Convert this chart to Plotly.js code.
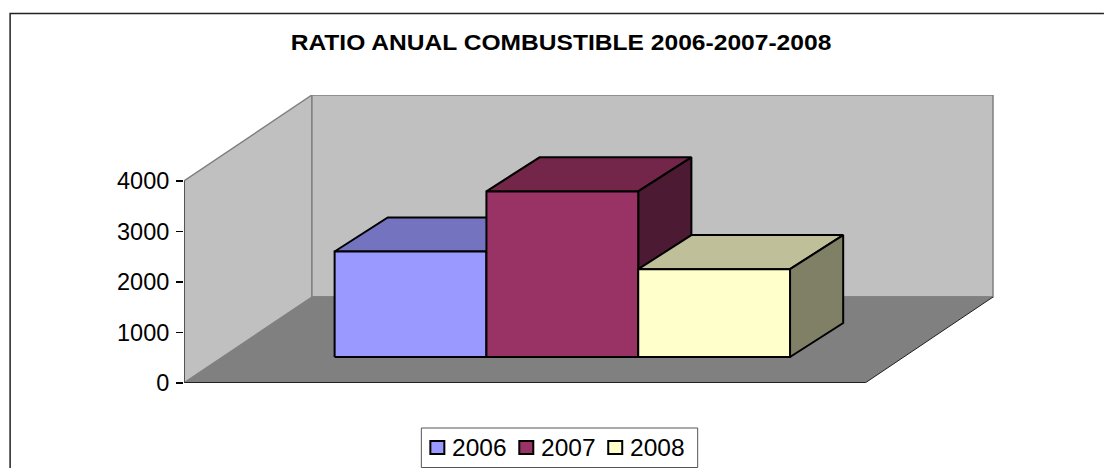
<!DOCTYPE html>
<html>
<head>
<meta charset="utf-8">
<script src="https://cdn.plot.ly/plotly-3.0.1.min.js"></script>
<style>
html,body{margin:0;padding:0;background:#fff}
#chart{width:1104px;height:468px}
#chart .gtitle{transform-box:fill-box;transform-origin:center;transform:scaleX(1.118)}
</style>
</head>
<body>
<div id="chart"></div>
<script>
const titleText = 'RATIO ANUAL COMBUSTIBLE 2006-2007-2008';
const years = ['2006', '2007', '2008'];
const ratios = [2090, 3280, 1740];
const frontColors = ['#9999FF', '#993366', '#FFFFCC'];
const topColors = ['#7373BF', '#732649', '#BFBF99'];
const sideColors = ['#4D4D80', '#4D1A33', '#808066'];
const yTicks = [0, 1000, 2000, 3000, 4000];

const W = 1104, H = 468;
const margin = {l: 183.5, r: 110, t: 95, b: 85};
const plotW = W - margin.l - margin.r, plotH = H - margin.t - margin.b;
const pxPerValue = 202 / 4000;
const pxPerCat = 151.9;
const centerPx = 371.5;                 // first category centre on the floor's front edge
const yMax = plotH / pxPerValue;
const xMin = (183.5 - centerPx) / pxPerCat;
const xMax = (994 - centerPx) / pxPerCat;
const floorW = 681.5 / pxPerCat;        // width of the floor front edge in category units
const depthX = 128 / pxPerCat;          // full depth of the floor, in x units
const depthY = 86 / pxPerValue;         // full depth of the floor, in value units
const barFront = 0.302, barBack = 0.698;
const barSkew = 2.5 / pxPerCat;         // bars run slightly deeper horizontally than the floor scale

// oblique projection onto the 2D axes
const P = (x, v, d) => [x + d * depthX, v + d * depthY];
const PB = (x, v) => { const p = P(x, v, barBack); return [p[0] + barSkew, p[1]]; };
function poly(pts, fill, lineColor, lineWidth, name) {
  const c = pts.concat([pts[0]]);
  return {
    type: 'scatter', mode: 'lines', x: c.map(p => p[0]), y: c.map(p => p[1]),
    fill: 'toself', fillcolor: fill,
    line: {color: lineColor, width: lineWidth, simplify: false},
    hoverinfo: name ? 'name' : 'skip', name: name || '', showlegend: false
  };
}
function seg(pts, color, width) {
  return {
    type: 'scatter', mode: 'lines', x: pts.map(p => p[0]), y: pts.map(p => p[1]),
    line: {color: color, width: width}, hoverinfo: 'skip', showlegend: false
  };
}

const traces = [];
const x0 = xMin, x1 = xMin + floorW, wallTop = 4000;
// walls and floor
traces.push(poly([P(x0,0,0), P(x0,wallTop,0), P(x0,wallTop,1), P(x0,0,1)], '#C0C0C0', '#808080', 1.5));
traces.push(poly([P(x0,0,1), P(x0,wallTop,1), P(x1,wallTop,1), P(x1,0,1)], '#C0C0C0', '#808080', 1.5));
traces.push(poly([P(x0,0,0), P(x1,0,0), P(x1,0,1), P(x0,0,1)], '#808080', 'rgba(0,0,0,0)', 0));
traces.push(seg([P(x0,0,1), P(x1,0,1)], '#808080', 1.5));
traces.push(seg([P(x1,0,0), P(x1,0,1)], '#202020', 1));
traces.push(seg([P(x0,0,0), P(x1,0,0)], '#000000', 1.5));
traces.push(seg([P(x0,0,0), P(x0,wallTop,0)], '#404040', 1.5));

// bars, back to front and left to right
ratios.forEach((v, i) => {
  const a = i - 0.5, b = i + 0.5, f = barFront;
  traces.push(poly([P(a,v,f), P(b,v,f), PB(b,v), PB(a,v)], topColors[i], '#000', 2));
  traces.push(poly([P(b,0,f), P(b,v,f), PB(b,v), PB(b,0)], sideColors[i], '#000', 2));
  traces.push(poly([P(a,0,f), P(b,0,f), P(b,v,f), P(a,v,f)], frontColors[i], '#000', 2, years[i]));
});

const px = x => (x - margin.l) / plotW;
const py = y => 1 - (y - margin.t) / plotH;
const fontFam = '"Liberation Sans", Arial, sans-serif';

const shapes = [
  {type: 'path', xref: 'paper', yref: 'paper', layer: 'below',
   path: `M ${px(9.5)} ${py(468)} L ${px(9.5)} ${py(13.5)} L ${px(1104)} ${py(13.5)}`,
   line: {color: '#222', width: 1.5}},
  {type: 'rect', xref: 'paper', yref: 'paper', x0: px(421), x1: px(697.5), y0: py(428), y1: py(467.5),
   line: {color: '#555', width: 1}, fillcolor: '#fff'}
];
const annotations = [];
const legendX = [430, 519, 608];
years.forEach((yr, i) => {
  shapes.push({type: 'rect', xref: 'paper', yref: 'paper',
    x0: px(legendX[i]), x1: px(legendX[i] + 14), y0: py(441), y1: py(454),
    line: {color: '#000', width: 2}, fillcolor: frontColors[i]});
  annotations.push({xref: 'paper', yref: 'paper', x: px(legendX[i] + 23), y: py(447),
    xanchor: 'left', yanchor: 'middle', showarrow: false, text: yr, borderpad: 0, borderwidth: 0,
    xshift: -1, font: {family: fontFam, size: 24.5, color: '#000'}});
});

const layout = {
  width: W, height: H, margin: margin,
  paper_bgcolor: '#fff', plot_bgcolor: '#fff', showlegend: false,
  title: {text: '<b>' + titleText + '</b>', xref: 'container', yref: 'container',
          x: 561 / W, xanchor: 'center', y: 1 - 42 / H, yanchor: 'middle',
          font: {family: fontFam, size: 22, color: '#000'}},
  xaxis: {range: [xMin, xMax], visible: false, fixedrange: true},
  yaxis: {range: [0, yMax], tickmode: 'array', tickvals: yTicks, ticktext: yTicks.map(String),
          showgrid: false, zeroline: false, showline: false, ticks: 'outside', ticklen: 7,
          tickwidth: 1.2, tickcolor: '#000', ticklabelstandoff: 2, fixedrange: true,
          tickfont: {family: fontFam, size: 23.5, color: '#000'}},
  shapes: shapes, annotations: annotations
};
Plotly.newPlot('chart', traces, layout, {displayModeBar: false, staticPlot: true});
</script>
</body>
</html>
